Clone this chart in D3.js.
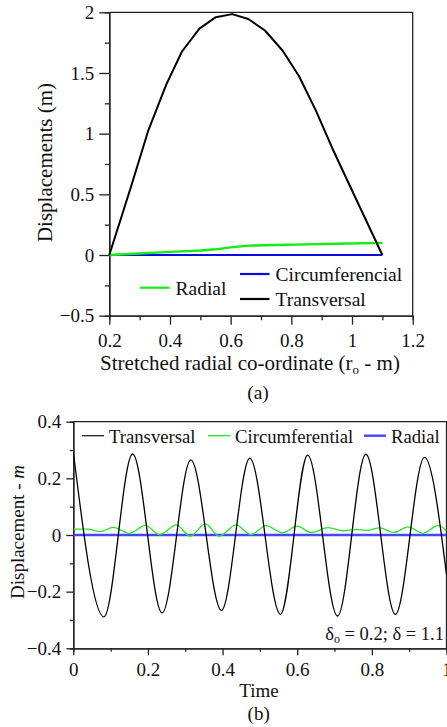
<!DOCTYPE html>
<html>
<head>
<meta charset="utf-8">
<script src="https://cdn.jsdelivr.net/npm/d3@7"></script>
<style>
  body { margin: 0; background: #fff; }
  svg, svg text { font-family: "Liberation Serif", "Times New Roman", serif; }
</style>
</head>
<body>
<div id="chart"></div>
<script>
// ---- panel (a) : displacement along stretched radial co-ordinate ----
const aTransX = [0.2, 0.27, 0.329, 0.387, 0.439, 0.497, 0.551, 0.605, 0.658, 0.713, 0.771, 0.825, 0.881, 0.935, 0.99, 1.045, 1.1];
const aTransY = [0, 0.55, 1.03, 1.4, 1.675, 1.865, 1.96, 1.985, 1.945, 1.85, 1.685, 1.475, 1.19, 0.88, 0.585, 0.293, 0];
const aRadX = [0.2, 0.3, 0.4, 0.5, 0.55, 0.6, 0.66, 0.75, 0.85, 0.95, 1.1];
const aRadY = [0, 0.013, 0.026, 0.037, 0.047, 0.063, 0.077, 0.083, 0.088, 0.093, 0.1];
const aCircX = [0.2, 1.1];
const aCircY = [0, 0];
const aXTicks = [0.2, 0.4, 0.6, 0.8, 1, 1.2];
const aXMinor = [0.3, 0.5, 0.7, 0.9, 1.1];
const aYTicks = [-0.5, 0, 0.5, 1, 1.5, 2];
const aYMinor = [-0.25, 0.25, 0.75, 1.25, 1.75];

// ---- panel (b) : displacement over time ----
const bTransT = [0, 0.082, 0.159, 0.238, 0.315, 0.397, 0.473, 0.555, 0.628, 0.708, 0.784, 0.863, 0.941, 1.0];
const bTransY = [0.294, -0.289, 0.286, -0.275, 0.265, -0.266, 0.271, -0.28, 0.282, -0.286, 0.285, -0.28, 0.274, -0.14];
const bCircT = [0, 0.04, 0.071, 0.107, 0.151, 0.193, 0.231, 0.276, 0.313, 0.354, 0.391, 0.436, 0.476, 0.516, 0.561, 0.599, 0.638, 0.683, 0.723, 0.759, 0.786, 0.821, 0.859, 0.897, 0.937, 0.978, 1.0];
const bCircY = [0.021, 0.021, 0.012, 0.027, 0.006, 0.034, 0.001, 0.036, -0.004, 0.039, -0.004, 0.036, 0.001, 0.033, 0.008, 0.031, 0.009, 0.026, 0.015, 0.02, 0.016, 0.025, 0.009, 0.029, 0.006, 0.034, 0.015];
const bRadT = [0, 1];
const bRadY = [0, 0];
const bXTicks = [0, 0.2, 0.4, 0.6, 0.8, 1];
const bXMinor = [0.1, 0.3, 0.5, 0.7, 0.9];
const bYTicks = [-0.4, -0.2, 0, 0.2, 0.4];
const bYMinor = [-0.3, -0.1, 0.1, 0.3];

const width = 447, height = 727;
const axisColor = "#222";
const tickFont = 19;
const serif = '"Liberation Serif", "Times New Roman", serif';

const svg = d3.select("#chart").append("svg")
  .attr("width", width)
  .attr("height", height)
  .attr("font-family", serif);

svg.append("rect").attr("width", width).attr("height", height).attr("fill", "#fff");

const zip = (xs, ys) => xs.map((x, i) => [x, ys[i]]);

function styleAxis(g) {
  g.attr("font-family", serif);
  g.select(".domain").attr("stroke", axisColor).attr("stroke-width", 1.3);
  g.selectAll(".tick line").attr("stroke", axisColor).attr("stroke-width", 1.3);
  g.selectAll(".tick text")
    .attr("fill", "#111")
    .style("font-family", serif)
    .style("font-size", tickFont + "px");
}

function panel(opts) {
  const { x, y, major, minor } = opts;
  const [x0, x1] = x.range();
  const [y0, y1] = y.range();

  // frame: top + right border
  svg.append("path")
    .attr("d", `M${x0},${y1}H${x1}V${y0}`)
    .attr("fill", "none")
    .attr("stroke", axisColor)
    .attr("stroke-width", 1.3);

  // minor ticks first, then major axes on top
  svg.append("g")
    .attr("transform", `translate(0,${y0})`)
    .call(d3.axisBottom(x).tickValues(minor.x).tickSize(minor.size).tickFormat(""))
    .call(styleAxis);
  svg.append("g")
    .attr("transform", `translate(${x0},0)`)
    .call(d3.axisLeft(y).tickValues(minor.y).tickSize(minor.size).tickFormat(""))
    .call(styleAxis);

  svg.append("g")
    .attr("transform", `translate(0,${y0})`)
    .call(d3.axisBottom(x).tickValues(major.x).tickSize(major.xSize).tickSizeOuter(0)
      .tickPadding(major.xPad).tickFormat(d3.format("")))
    .call(styleAxis);
  svg.append("g")
    .attr("transform", `translate(${x0},0)`)
    .call(d3.axisLeft(y).tickValues(major.y).tickSize(major.ySize).tickSizeOuter(0)
      .tickPadding(major.yPad).tickFormat(d3.format("")))
    .call(styleAxis);
}

function drawLine(x, y, data, color, w, curve, clipId) {
  svg.append("path")
    .datum(data)
    .attr("fill", "none")
    .attr("stroke", color)
    .attr("stroke-width", w)
    .attr("stroke-linejoin", "round")
    .attr("clip-path", clipId ? `url(#${clipId})` : null)
    .attr("d", d3.line().x((d) => x(d[0])).y((d) => y(d[1])).curve(curve));
}

// ================= (a) =================
const xa = d3.scaleLinear().domain([0.2, 1.2]).range([109.3, 412.7]);
const ya = d3.scaleLinear().domain([-0.5, 2]).range([315.7, 12.3]);

panel({
  x: xa, y: ya,
  major: { x: aXTicks, y: aYTicks, xSize: 9, ySize: 10, xPad: 9, yPad: 5 },
  minor: { x: aXMinor, y: aYMinor, size: 4.5 },
});

drawLine(xa, ya, zip(aCircX, aCircY), "#0a0ae6", 2, d3.curveLinear);
drawLine(xa, ya, zip(aRadX, aRadY), "#14ec14", 2.4, d3.curveLinear);
drawLine(xa, ya, zip(aTransX, aTransY), "#000", 2, d3.curveLinear);

// legend (a)
const legendA = [
  { name: "Radial", color: "#14ec14", x: 140, y: 287.7 },
  { name: "Circumferencial", color: "#0a0ae6", x: 240, y: 274 },
  { name: "Transversal", color: "#000", x: 240, y: 299 },
];
legendA.forEach((d) => {
  svg.append("line")
    .attr("x1", d.x).attr("x2", d.x + 29.5)
    .attr("y1", d.y).attr("y2", d.y)
    .attr("stroke", d.color).attr("stroke-width", 2.2);
  svg.append("text")
    .attr("x", d.x + 35.5).attr("y", d.y + 7)
    .attr("font-size", 19.5)
    .attr("fill", "#111")
    .text(d.name);
});

svg.append("text")
  .attr("transform", "translate(51.5,162.5) rotate(-90)")
  .attr("text-anchor", "middle")
  .attr("font-size", 21)
  .attr("fill", "#111")
  .text("Displacements (m)");

const xTitleA = svg.append("text")
  .attr("x", 250).attr("y", 370)
  .attr("text-anchor", "middle")
  .attr("font-size", 21)
  .attr("fill", "#111");
xTitleA.append("tspan").text("Stretched radial co-ordinate (r");
xTitleA.append("tspan").attr("font-size", 13).attr("dy", 4).text("o");
xTitleA.append("tspan").attr("dy", -4).text(" - m)");

svg.append("text")
  .attr("x", 258).attr("y", 399)
  .attr("text-anchor", "middle")
  .attr("font-size", 19.5)
  .attr("fill", "#111")
  .text("(a)");

// ================= (b) =================
const xb = d3.scaleLinear().domain([0, 1]).range([73.3, 446.5]);
const yb = d3.scaleLinear().domain([-0.4, 0.4]).range([648.3, 421.7]);

svg.append("clipPath").attr("id", "clip-b")
  .append("rect")
  .attr("x", 73.3).attr("y", 421.7)
  .attr("width", 446.5 - 73.3).attr("height", 648.3 - 421.7);

panel({
  x: xb, y: yb,
  major: { x: bXTicks, y: bYTicks, xSize: 7, ySize: 7, xPad: 7, yPad: 5 },
  minor: { x: bXMinor, y: bYMinor, size: 3.5 },
});

drawLine(xb, yb, zip(bRadT, bRadY), "#4646ff", 2.6, d3.curveLinear, "clip-b");
drawLine(xb, yb, zip(bCircT, bCircY), "#22e622", 1.3, d3.curveMonotoneX, "clip-b");
drawLine(xb, yb, zip(bTransT, bTransY), "#000", 1.3, d3.curveMonotoneX, "clip-b");

// legend (b)
const legendB = [
  { name: "Transversal", color: "#222", x: 82, w: 1.3 },
  { name: "Circumferential", color: "#22e622", x: 208, w: 1.3 },
  { name: "Radial", color: "#4646ff", x: 364, w: 2.4 },
];
legendB.forEach((d) => {
  svg.append("line")
    .attr("x1", d.x).attr("x2", d.x + 22)
    .attr("y1", 435.7).attr("y2", 435.7)
    .attr("stroke", d.color).attr("stroke-width", d.w);
  svg.append("text")
    .attr("x", d.x + 27).attr("y", 442.5)
    .attr("font-size", 18.7)
    .attr("fill", "#111")
    .text(d.name);
});

// parameters note
const note = svg.append("text")
  .attr("x", 444).attr("y", 640)
  .attr("text-anchor", "end")
  .attr("font-size", 18.5)
  .attr("fill", "#111");
note.append("tspan").text("δ");
note.append("tspan").attr("font-size", 12).attr("dy", 3).text("o");
note.append("tspan").attr("dy", -3).text(" = 0.2; δ = 1.1");

const yTitleB = svg.append("text")
  .attr("transform", "translate(24,532) rotate(-90)")
  .attr("text-anchor", "middle")
  .attr("font-size", 19)
  .attr("fill", "#111");
yTitleB.append("tspan").text("Displacement - ");
yTitleB.append("tspan").attr("font-style", "italic").text("m");

svg.append("text")
  .attr("x", 259).attr("y", 697)
  .attr("text-anchor", "middle")
  .attr("font-size", 19)
  .attr("fill", "#111")
  .text("Time");

svg.append("text")
  .attr("x", 258.7).attr("y", 720)
  .attr("text-anchor", "middle")
  .attr("font-size", 19)
  .attr("fill", "#111")
  .text("(b)");
</script>
</body>
</html>
